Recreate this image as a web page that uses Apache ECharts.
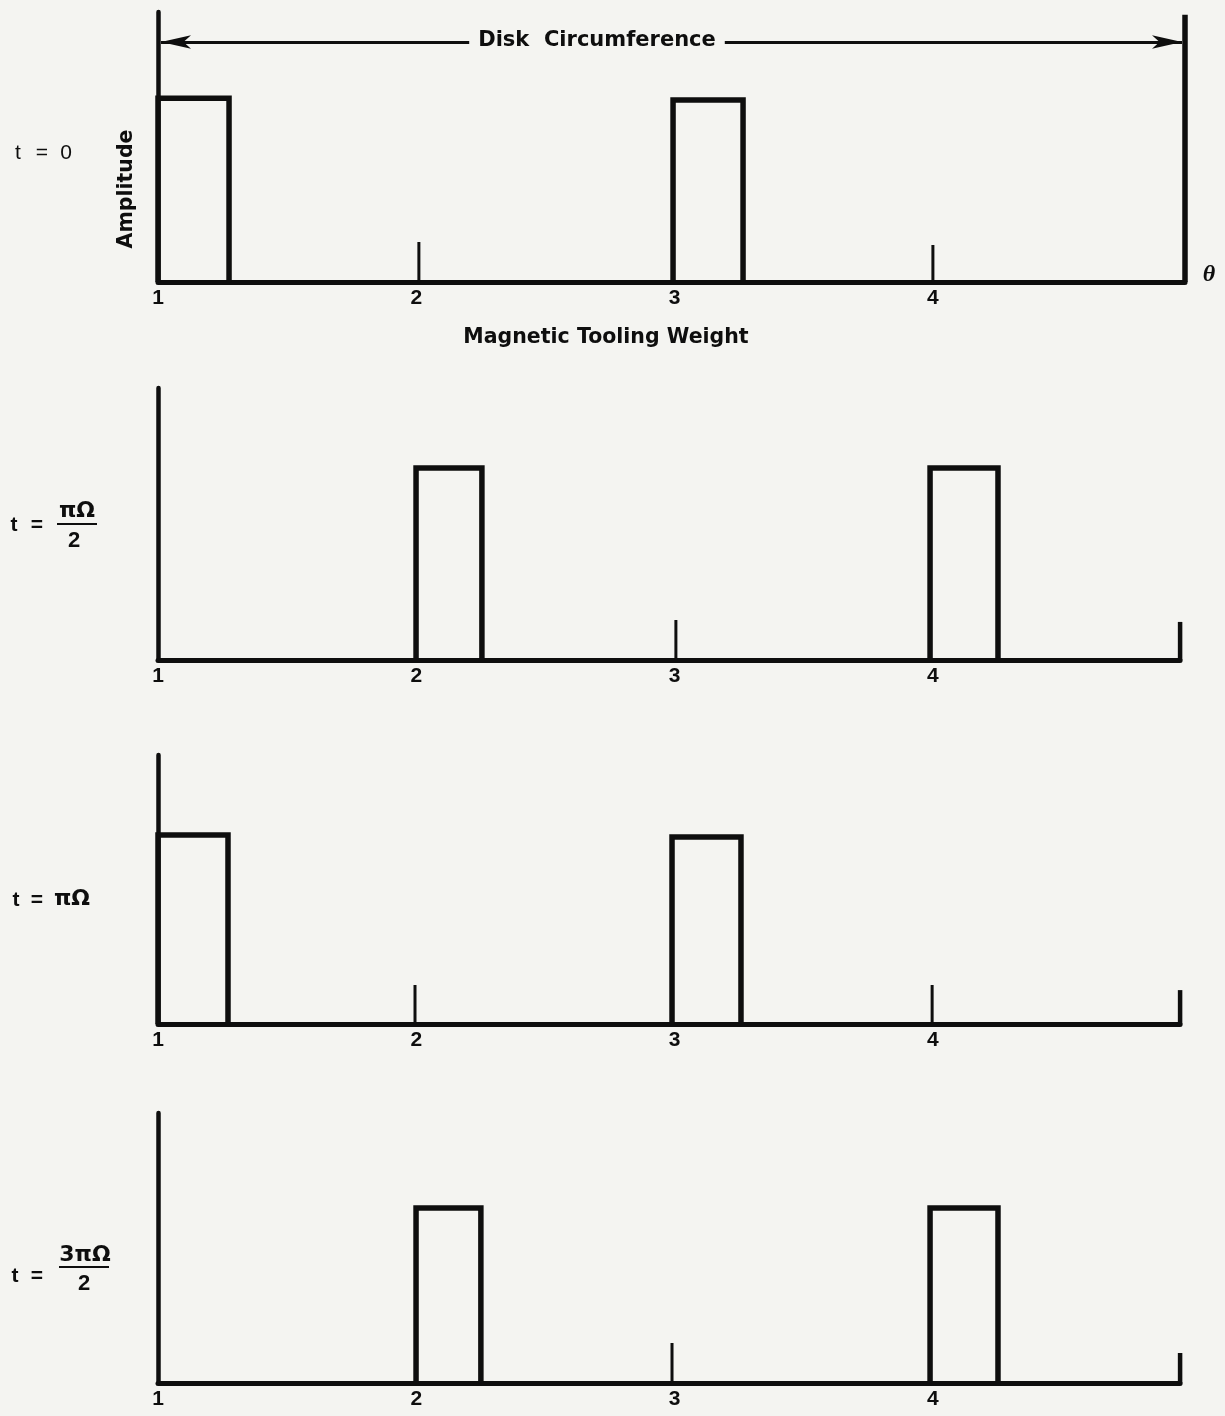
<!DOCTYPE html>
<html><head><meta charset="utf-8">
<script src="https://cdn.jsdelivr.net/npm/echarts@6/dist/echarts.min.js"></script>
<style>html,body{margin:0;padding:0;background:#f4f4f1}#c{width:1225px;height:1416px}</style>
</head><body><div id="c"></div>
<script>
// ---- data (x: one tooling-weight spacing per unit; label "1" sits at 0) ----
const tickLabels = ['1', '2', '3', '4'];
const timeNumerators = ['0', 'πΩ', 'πΩ', '3πΩ'];
const timeDenominators = ['', '2', '', '2'];
const axisEnd = [3.976, 3.957, 3.957, 3.957];
const endMarkHeight = [9.9, 1.40, 1.26, 1.11];      // y axis top = 10
// t = 0
const pulseStart0 = [0.000, 1.994], pulseEnd0 = [0.275, 2.265], pulseHeight0 = [6.81, 6.74];
const markPos0 = [1.010, 3.000], markHeight0 = [1.48, 1.37];
// t = πΩ/2
const pulseStart1 = [0.999, 2.989], pulseEnd1 = [1.254, 3.252], pulseHeight1 = [7.06, 7.06];
const markPos1 = [2.005], markHeight1 = [1.47];
// t = πΩ
const pulseStart2 = [0.000, 1.990], pulseEnd2 = [0.271, 2.257], pulseHeight2 = [7.03, 6.95];
const markPos2 = [0.995, 2.997], markHeight2 = [1.45, 1.45];
// t = 3πΩ/2
const pulseStart3 = [0.999, 2.989], pulseEnd3 = [1.250, 3.252], pulseHeight3 = [6.48, 6.48];
const markPos3 = [1.990], markHeight3 = [1.48];
const circumferenceLevel = 8.89;

const pulseStarts = [pulseStart0, pulseStart1, pulseStart2, pulseStart3];
const pulseEnds = [pulseEnd0, pulseEnd1, pulseEnd2, pulseEnd3];
const pulseHeights = [pulseHeight0, pulseHeight1, pulseHeight2, pulseHeight3];
const markPositions = [markPos0, markPos1, markPos2, markPos3];
const markHeights = [markHeight0, markHeight1, markHeight2, markHeight3];

// ---- layout ----
const INK = '#0e0e0e';
const BG = '#f4f4f1';
const pxPerUnit = 258.3;
const gridTop = [12, 388, 755, 1113];
const gridHeight = [270, 272, 269, 270];
const gridLeft = 158;

const chart = echarts.init(document.getElementById('c'), null, {renderer: 'canvas'});
const grids = [], xAxes = [], yAxes = [], series = [];
for (let p = 0; p < 4; p++) {
  grids.push({left: gridLeft, top: gridTop[p], width: axisEnd[p] * pxPerUnit, height: gridHeight[p]});
  xAxes.push({
    type: 'value', gridIndex: p, min: 0, max: axisEnd[p], interval: 1,
    axisLine: {show: true, onZero: false, lineStyle: {color: INK, width: 5}},
    axisTick: {show: false}, splitLine: {show: false},
    axisLabel: {
      show: true, showMaxLabel: false, margin: 6, color: INK,
      fontFamily: 'Liberation Sans', fontWeight: 'bold', fontSize: 21,
      formatter: v => (Number.isInteger(v) && tickLabels[v] !== undefined) ? tickLabels[v] : ''
    }
  });
  yAxes.push({
    type: 'value', gridIndex: p, min: 0, max: 10,
    axisLine: {show: true, onZero: false, lineStyle: {color: INK, width: 4.5}},
    axisTick: {show: false}, axisLabel: {show: false}, splitLine: {show: false}
  });
  const lineBase = {type: 'line', xAxisIndex: p, yAxisIndex: p, symbol: 'none', silent: true, clip: false, animation: false};
  pulseStarts[p].forEach((s, i) => {
    const e = pulseEnds[p][i], h = pulseHeights[p][i];
    series.push(Object.assign({}, lineBase, {
      data: [[s, 0], [s, h], [e, h], [e, 0]],
      lineStyle: {color: INK, width: 5.5, join: 'miter'}
    }));
  });
  markPositions[p].forEach((m, i) => {
    series.push(Object.assign({}, lineBase, {
      data: [[m, 0], [m, markHeights[p][i]]],
      lineStyle: {color: INK, width: 3}
    }));
  });
  const endSeries = Object.assign({}, lineBase, {
    data: [[axisEnd[p], 0], [axisEnd[p], endMarkHeight[p]]],
    lineStyle: {color: INK, width: p === 0 ? 5.5 : 4.5}
  });
  if (p === 0) {
    const inset = 3 / pxPerUnit;
    endSeries.markLine = {
      silent: true, animation: false,
      symbol: ['arrow', 'arrow'], symbolSize: [10, 30],
      label: {show: false},
      lineStyle: {color: INK, width: 2.8, type: 'solid'},
      data: [[{coord: [inset, circumferenceLevel]}, {coord: [axisEnd[p] - inset, circumferenceLevel]}]]
    };
  }
  series.push(endSeries);
}

// ---- text annotations ----
const graphic = [];
const T = (x, y, text, font, extra) => Object.assign({
  type: 'text', x: x, y: y, z: 100,
  style: Object.assign({text: text, font: font, fill: INK, align: 'center', verticalAlign: 'middle'}, extra || {})
});
const boldSans = '"DejaVu Sans"';
graphic.push(T(597, 41, 'Disk  Circumference', 'bold 21px ' + boldSans, {backgroundColor: BG, padding: [2, 9]}));
graphic.push(T(606, 338, 'Magnetic Tooling Weight', 'bold 20.5px ' + boldSans));
graphic.push(Object.assign(T(127, 189, 'Amplitude', 'bold 20.5px ' + boldSans), {rotation: Math.PI / 2}));
graphic.push(T(1209, 275, 'θ', 'italic bold 24px "Liberation Serif"'));

// t = 0
graphic.push(T(18, 153, 't', '21px "Liberation Sans"'));
graphic.push(T(42, 153, '=', '21px "Liberation Sans"'));
graphic.push(T(66, 153, timeNumerators[0], '21px "Liberation Sans"'));
// t = πΩ/2
graphic.push(T(14, 525, 't', 'bold 21px "Liberation Sans"'));
graphic.push(T(37, 525, '=', 'bold 21px "Liberation Sans"'));
graphic.push(T(77, 511, timeNumerators[1], 'bold 22px ' + boldSans));
graphic.push({type: 'rect', z: 100, shape: {x: 57, y: 523, width: 40, height: 2}, style: {fill: INK}});
graphic.push(T(74, 541, timeDenominators[1], 'bold 22px "Liberation Sans"'));
// t = πΩ
graphic.push(T(16, 900, 't', 'bold 21px "Liberation Sans"'));
graphic.push(T(37, 900, '=', 'bold 21px "Liberation Sans"'));
graphic.push(T(72, 899, timeNumerators[2], 'bold 22px ' + boldSans));
// t = 3πΩ/2
graphic.push(T(15, 1276, 't', 'bold 21px "Liberation Sans"'));
graphic.push(T(37, 1276, '=', 'bold 21px "Liberation Sans"'));
graphic.push(T(85, 1255, timeNumerators[3], 'bold 22px ' + boldSans));
graphic.push({type: 'rect', z: 100, shape: {x: 59, y: 1266, width: 50, height: 2}, style: {fill: INK}});
graphic.push(T(84, 1284, timeDenominators[3], 'bold 22px "Liberation Sans"'));

chart.setOption({
  backgroundColor: BG,
  animation: false,
  grid: grids, xAxis: xAxes, yAxis: yAxes, series: series,
  graphic: graphic
});
</script></body></html>
